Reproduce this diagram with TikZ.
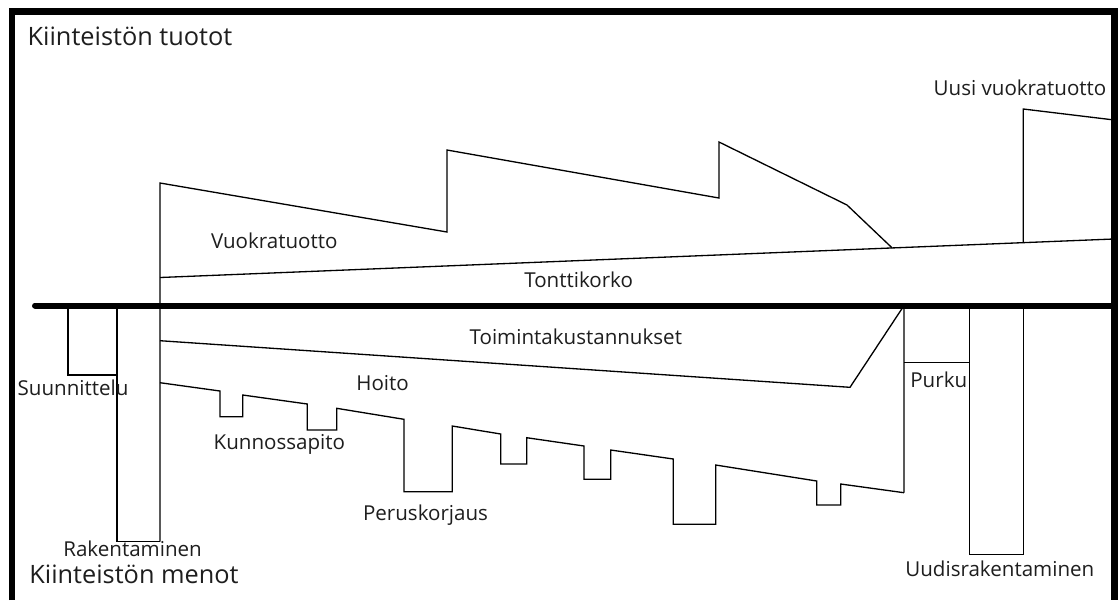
\documentclass[tikz,border=0pt]{standalone}
\usepackage{fontspec}
\setmainfont{Open Sans}
\definecolor{txt}{HTML}{1E1E1E}
\tikzset{
  lbl/.style={anchor=base west, inner sep=0pt, text=txt, font=\fontsize{11.7}{14}\selectfont},
  ttl/.style={anchor=base west, inner sep=0pt, text=txt, font=\fontsize{14.4}{17}\selectfont},
  thin/.style={line width=0.75pt, black, line join=miter},
  frame/.style={line width=0.14cm, black},
  axis/.style={line width=0.12cm, black, line cap=round}
}
\begin{document}
\begin{tikzpicture}[x=0.02cm, y=-0.02cm]
\fill[white] (0,0) rectangle (1118,600);
\useasboundingbox (0,0) rectangle (1118,600);
% frame
\draw[frame] (12,600) -- (12,11.7) -- (1114.5,11.7) -- (1114.5,600);
% axis
\coordinate (axL) at (35,305.5);
\coordinate (axR) at (1112,305.5);
\draw[axis] (axL) -- (axR);
% upper part: rent income
\draw[thin] (160,541.7) -- (160,183) -- (447,232) -- (447,150) -- (719,198) -- (719,142) -- (847,205) -- (892,247.8);
% ground rent line
\draw[thin] (160,277.5) -- (1111,239.1);
% new rent
\draw[thin] (1023.3,242.3) -- (1023.3,109) -- (1111,119.6);
% lower part
\draw[thin] (68,305.5) -- (68,375) -- (117,375);
\draw[thin] (117,305.5) -- (117,541.7) -- (160,541.7);
\draw[thin] (160,340.7) -- (850,387.3) -- (904,305.5) -- (904,492.7);
\draw[thin] (160,382.7) -- (220,391) -- (220,416.7) -- (242.7,416.7) -- (242.7,395)
  -- (307.3,404) -- (307.3,430) -- (336.7,430) -- (336.7,408.3)
  -- (404,419.3) -- (404,491.7) -- (452.3,491.7) -- (452.3,426)
  -- (500.7,434) -- (500.7,464) -- (526.7,464) -- (526.7,437.7)
  -- (584,446) -- (584,479.3) -- (610.7,479.3) -- (610.7,450)
  -- (673.3,459) -- (673.3,524.3) -- (715.7,524.3) -- (715.7,465)
  -- (816.7,481) -- (816.7,505) -- (840.7,505) -- (840.7,484)
  -- (904,492.7);
\draw[thin] (904,362.3) -- (969.3,362.3);
\draw[thin] (969.3,305.5) -- (969.3,554.3) -- (1023.3,554.3) -- (1023.3,305.5);
% labels
\node[ttl] (t1) at (27.3,45) {Kiinteistön tuotot};
\node[ttl] (t2) at (29,583.3) {Kiinteistön menot};
\node[lbl] (vt) at (210.7,248.3) {Vuokratuotto};
\node[lbl] (tk) at (524,287.3) {Tonttikorko};
\node[lbl] (uvt) at (933.3,95) {Uusi vuokratuotto};
\node[lbl] (su) at (17.3,395) {Suunnittelu};
\node[lbl] (ra) at (63,556.7) {Rakentaminen};
\node[lbl] (ku) at (213.3,449.3) {Kunnossapito};
\node[lbl] (ho) at (356,390.7) {Hoito};
\node[lbl] (pe) at (362.7,520) {Peruskorjaus};
\node[lbl] (to) at (469.3,344.3) {Toimintakustannukset};
\node[lbl] (pu) at (910,387.7) {Purku};
\node[lbl] (uu) at (905,576) {Uudisrakentaminen};
\end{tikzpicture}
\end{document}
